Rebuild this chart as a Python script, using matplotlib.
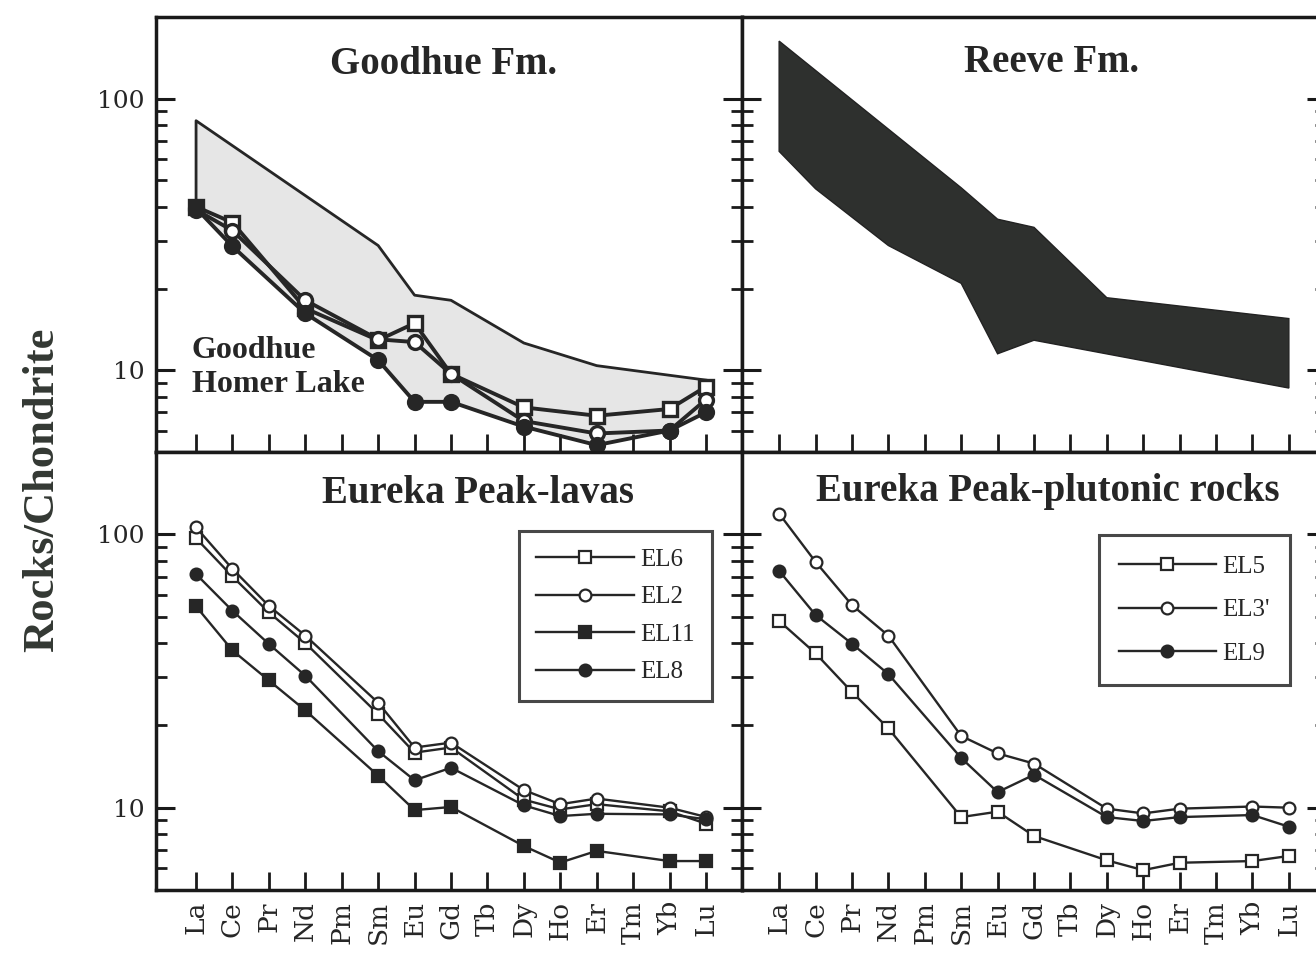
import matplotlib
matplotlib.use("Agg")
import matplotlib.pyplot as plt
from matplotlib.ticker import LogLocator, NullFormatter, FixedLocator, FixedFormatter

elements = ["La", "Ce", "Pr", "Nd", "Pm", "Sm", "Eu", "Gd", "Tb", "Dy",
            "Ho", "Er", "Tm", "Yb", "Lu"]

# Goodhue Fm. samples (no Pr, Ho)
goodhue_idx = [0, 1, 3, 5, 6, 7, 9, 11, 13, 14]
goodhue_sq = [40, 35, 16.9, 12.9, 14.9, 9.7, 7.3, 6.8, 7.2, 8.7]
goodhue_ci = [39, 32.7, 18.1, 13.0, 12.7, 9.7, 6.5, 5.85, 6.0, 7.8]
goodhue_fi = [39.5, 28.6, 16.2, 10.9, 7.65, 7.65, 6.2, 5.3, 6.0, 7.0]
# Goodhue field (shaded)
goodhue_top_idx = [0, 5, 6, 7, 9, 11, 14]
goodhue_top = [83, 28.8, 18.9, 18.1, 12.6, 10.4, 9.2]
goodhue_low = [40, 28.6, 16.2, 10.9, 7.65, 7.65, 6.2, 5.3, 6.0, 7.0]

# Reeve Fm. field
reeve_top_idx = [0, 5, 6, 7, 9, 14]
reeve_top = [163, 47, 36, 33.6, 18.5, 15.5]
reeve_low_idx = [0, 1, 3, 5, 6, 7, 14]
reeve_low = [64, 46.6, 28.8, 20.9, 11.5, 12.9, 8.6]

# Eureka Peak lavas
lava_idx = [0, 1, 2, 3, 5, 6, 7, 9, 10, 11, 13, 14]
el6 = [96.7, 70.1, 51.8, 40.0, 22.0, 15.9, 16.6, 10.7, 9.86, 10.3, 9.7, 8.74]
el2 = [106, 74.7, 54.7, 42.6, 24.2, 16.6, 17.3, 11.6, 10.3, 10.8, 10.0, 9.25]
el11 = [54.5, 37.6, 29.2, 22.7, 13.1, 9.8, 10.06, 7.24, 6.3, 6.95, 6.38, 6.38]
el8 = [71.5, 52.5, 39.7, 30.4, 16.1, 12.6, 14.0, 10.2, 9.32, 9.5, 9.45, 9.07]

# Eureka Peak plutonic rocks
pluton_idx = [0, 1, 2, 3, 5, 6, 7, 9, 10, 11, 13, 14]
el5 = [48.2, 36.7, 26.5, 19.5, 9.24, 9.67, 7.88, 6.42, 5.91, 6.29, 6.38, 6.66]
el3 = [119, 79.3, 55.1, 42.6, 18.3, 15.8, 14.5, 9.92, 9.53, 9.92, 10.1, 10.0]
el9 = [73.5, 50.7, 39.8, 30.8, 15.2, 11.4, 13.2, 9.24, 8.94, 9.24, 9.4, 8.52]

INK = "#262626"
SERIF = "Liberation Serif"
TICKFONT = "DejaVu Serif"

fig = plt.figure(figsize=(13.16, 9.6), dpi=100)

W = 1316.0
H = 960.0
lx0, lx1 = 156, 742
rx0, rx1 = 742, 1326
ty0, ty1 = 17, 452
by0, by1 = 452, 890


def make_ax(x0, x1, y0, y1):
    return fig.add_axes([x0 / W, 1 - y1 / H, (x1 - x0) / W, (y1 - y0) / H])


ax_tl = make_ax(lx0, lx1, ty0, ty1)
ax_tr = make_ax(rx0, rx1, ty0, ty1)
ax_bl = make_ax(lx0, lx1, by0, by1)
ax_br = make_ax(rx0, rx1, by0, by1)

for ax, left in [(ax_tl, True), (ax_bl, True), (ax_tr, False), (ax_br, False)]:
    ax.set_yscale("log")
    ax.set_ylim(5, 200)
    if left:
        ax.set_xlim(-1.1, 14.99)
    else:
        ax.set_xlim(-1.02, 15.02)
    for s in ax.spines.values():
        s.set_linewidth(2.5)
        s.set_color("#1a1a1a")
    ax.xaxis.set_major_locator(FixedLocator(range(len(elements))))
    ax.yaxis.set_major_locator(FixedLocator([10, 100]))
    ax.yaxis.set_minor_locator(LogLocator(base=10, subs=range(2, 10)))
    ax.yaxis.set_minor_formatter(NullFormatter())
    ax.tick_params(which="both", direction="in", left=True, right=True,
                   top=False, bottom=True, color="#1a1a1a")
    ax.tick_params(which="major", length=14, width=2.2)
    ax.tick_params(which="minor", length=8, width=2.0)
    ax.tick_params(axis="x", which="major", length=13, width=2.0)
    if left:
        ax.yaxis.set_major_formatter(FixedFormatter(["10", "100"]))
        for lab in ax.get_yticklabels():
            lab.set_fontfamily(TICKFONT)
            lab.set_fontsize(18)
            lab.set_color(INK)
        ax.tick_params(axis="y", which="major", pad=8)
    else:
        ax.set_yticklabels([])

for ax in (ax_tl, ax_tr):
    ax.set_xticklabels([])
for ax in (ax_bl, ax_br):
    ax.set_xticklabels(elements, rotation=90, fontfamily=TICKFONT,
                       fontsize=19, color=INK)
    ax.tick_params(axis="x", pad=8)

# --- Goodhue Fm. ---
poly_x = goodhue_top_idx + goodhue_idx[::-1]
poly_y = goodhue_top + goodhue_low[::-1]
ax_tl.fill(poly_x, poly_y, color="#e6e6e6", zorder=1, lw=0)
ax_tl.plot([goodhue_idx[0]] + goodhue_top_idx,
           [goodhue_low[0]] + goodhue_top, color=INK, lw=2.0, zorder=2)
kw = dict(color=INK, lw=2.8, markersize=10, markeredgewidth=2.4, zorder=3)
ax_tl.plot(goodhue_idx, goodhue_sq, marker="s", markerfacecolor="white", **kw)
ax_tl.plot(goodhue_idx, goodhue_ci, marker="o", markerfacecolor="white", **kw)
ax_tl.plot(goodhue_idx, goodhue_fi, marker="o", markerfacecolor=INK, **kw)
ax_tl.text(0.49, 0.89, "Goodhue Fm.", transform=ax_tl.transAxes, ha="center",
           va="center", fontfamily=SERIF, fontweight="bold", fontsize=28,
           color=INK)
ax_tl.text(-0.12, 10 ** 1.074, "Goodhue", fontfamily=SERIF, fontweight="bold",
           fontsize=23, color=INK, va="center", ha="left")
ax_tl.text(-0.12, 10 ** 0.949, "Homer Lake", fontfamily=SERIF, fontweight="bold",
           fontsize=23, color=INK, va="center", ha="left")

# --- Reeve Fm. ---
rx = reeve_top_idx + reeve_low_idx[::-1]
ry = reeve_top + reeve_low[::-1]
ax_tr.fill(rx, ry, color="#2e302e", lw=1, edgecolor="#222222", zorder=2)
ax_tr.text(0.53, 0.895, "Reeve Fm.", transform=ax_tr.transAxes, ha="center",
           va="center", fontfamily=SERIF, fontweight="bold", fontsize=28,
           color=INK)

# --- Eureka Peak lavas ---
kw = dict(color=INK, lw=1.7, markersize=8.5, markeredgewidth=1.6, zorder=3)
ax_bl.plot(lava_idx, el6, marker="s", markerfacecolor="white", label="EL6", **kw)
ax_bl.plot(lava_idx, el2, marker="o", markerfacecolor="white", label="EL2", **kw)
ax_bl.plot(lava_idx, el11, marker="s", markerfacecolor=INK, label="EL11", **kw)
ax_bl.plot(lava_idx, el8, marker="o", markerfacecolor=INK, label="EL8", **kw)
ax_bl.text(0.55, 0.905, "Eureka Peak-lavas", transform=ax_bl.transAxes,
           ha="center", va="center", fontfamily=SERIF, fontweight="bold",
           fontsize=28, color=INK)
leg = ax_bl.legend(loc="upper right", bbox_to_anchor=(0.949, 0.820),
                   borderaxespad=0, fancybox=False, handlelength=3.9,
                   labelspacing=0.6, borderpad=0.7, handletextpad=0.25,
                   prop={"family": SERIF, "size": 18})
leg.get_frame().set_edgecolor("#1a1a1a")
leg.get_frame().set_linewidth(2.2)
for t in leg.get_texts():
    t.set_color(INK)

# --- Eureka Peak plutonic rocks ---
ax_br.plot(pluton_idx, el5, marker="s", markerfacecolor="white", label="EL5", **kw)
ax_br.plot(pluton_idx, el3, marker="o", markerfacecolor="white", label="EL3'", **kw)
ax_br.plot(pluton_idx, el9, marker="o", markerfacecolor=INK, label="EL9", **kw)
ax_br.text(0.523, 0.91, "Eureka Peak-plutonic rocks", transform=ax_br.transAxes,
           ha="center", va="center", fontfamily=SERIF, fontweight="bold",
           fontsize=28, color=INK)
leg = ax_br.legend(loc="upper right", bbox_to_anchor=(0.938, 0.810),
                   borderaxespad=0, fancybox=False, handlelength=3.9,
                   labelspacing=0.85, borderpad=0.8, handletextpad=0.25,
                   prop={"family": SERIF, "size": 18})
leg.get_frame().set_edgecolor("#1a1a1a")
leg.get_frame().set_linewidth(2.2)
for t in leg.get_texts():
    t.set_color(INK)

fig.text(42 / W, 1 - 490 / H, "Rocks/Chondrite", rotation=90, ha="center",
         va="center", fontfamily=SERIF, fontweight="bold", fontsize=32,
         color="#333833")

fig.savefig("out.png", dpi=100)
